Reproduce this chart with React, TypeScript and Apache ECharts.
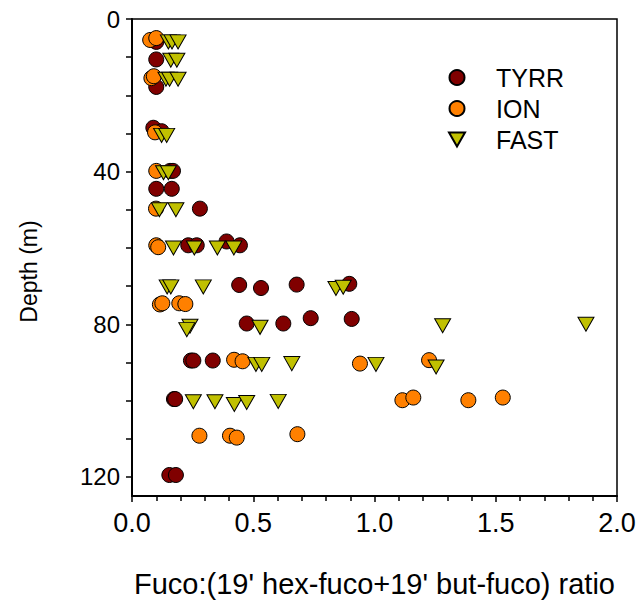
import React, { useEffect, useRef } from "react";
import * as echarts from "echarts";

const seriesNames = ["TYRR", "ION", "FAST"];

const tyrrRatio = [0.10, 0.10, 0.10, 0.088, 0.122, 0.157, 0.169, 0.10, 0.164, 0.28, 0.232, 0.267, 0.39, 0.445, 0.442, 0.532, 0.679, 0.896, 0.473, 0.624, 0.737, 0.906, 0.243, 0.253, 0.333, 0.173, 0.178, 0.154, 0.181];
const tyrrDepth = [6, 10.6, 17.8, 28.5, 29.4, 39.8, 39.8, 44.5, 44.5, 49.7, 59.3, 59.3, 58.3, 59.3, 69.7, 70.5, 69.6, 69.4, 79.8, 79.8, 78.4, 78.6, 89.5, 89.5, 89.5, 99.6, 99.6, 119.5, 119.5];

const ionRatio = [0.075, 0.10, 0.08, 0.09, 0.095, 0.10, 0.099, 0.10, 0.108, 0.115, 0.125, 0.195, 0.22, 0.421, 0.456, 0.94, 1.225, 1.115, 1.16, 1.387, 1.529, 0.278, 0.404, 0.432, 0.682];
const ionDepth = [5.5, 5.0, 15.5, 15, 29.7, 39.8, 49.7, 59.3, 59.8, 74.8, 74.5, 74.5, 74.7, 89.3, 89.7, 90.3, 89.4, 99.9, 99.2, 99.9, 99.2, 109.2, 109.2, 109.7, 108.8];

const fastRatio = [0.15, 0.165, 0.19, 0.16, 0.185, 0.14, 0.155, 0.19, 0.122, 0.143, 0.13, 0.15, 0.113, 0.181, 0.171, 0.257, 0.352, 0.42, 0.145, 0.16, 0.294, 0.841, 0.871, 0.239, 0.226, 0.528, 1.281, 1.872, 0.511, 0.535, 0.659, 1.006, 1.254, 0.253, 0.342, 0.422, 0.473, 0.603];
const fastDepth = [6, 6, 6, 10.8, 10.8, 15.8, 15.8, 15.8, 30.5, 30.5, 40.3, 40.3, 50, 50, 60, 60, 60, 60, 70.2, 70.2, 70.2, 70.6, 70.3, 80.5, 81.4, 80.8, 80.4, 80, 90.5, 90.5, 90.3, 90.5, 91.2, 100.3, 100.3, 101, 100.5, 100.2];

const xTickLabels = [0, 0.5, 1.0, 1.5, 2.0];
const yTickLabels = [0, 40, 80, 120];
const yTickValues = [0, 10, 20, 30, 40, 50, 60, 70, 80, 90, 100, 110, 120];

const colors = ["#800000", "#ff8000", "#c0c000"];

const pairs = (xs: number[], ys: number[]) => xs.map((x, i) => [x, ys[i]]);

export default function App() {
  const ref = useRef<HTMLDivElement>(null);
  useEffect(() => {
    if (!ref.current) return;
    const chart = echarts.init(ref.current, null, { renderer: "svg" });
    const font = "Liberation Sans, Arial, sans-serif";
    const tri = "path://M0,0L16,0L8,14Z";
    chart.setOption({
      animation: false,
      backgroundColor: "#fff",
      textStyle: { fontFamily: font },
      grid: {
        left: 132,
        right: 27,
        top: 19,
        bottom: 111,
        show: true,
        borderColor: "#000",
        borderWidth: 1.5,
        backgroundColor: "transparent",
      },
      legend: {
        orient: "vertical",
        left: 443,
        top: 60,
        itemGap: 6,
        itemWidth: 16,
        itemHeight: 15,
        textStyle: { fontSize: 25, color: "#000", fontFamily: font, padding: [0, 0, 0, 26] },
        data: seriesNames,
      },
      xAxis: {
        type: "value",
        min: 0,
        max: 2,
        interval: 0.5,
        name: "Fuco:(19' hex-fuco+19' but-fuco) ratio",
        nameLocation: "middle",
        nameGap: 73,
        nameTextStyle: { fontSize: 29, color: "#000", fontFamily: font },
        axisLine: { show: true, onZero: false, lineStyle: { color: "#000", width: 2 } },
        axisTick: { show: true, inside: false, length: 6, lineStyle: { color: "#000", width: 1.5 } },
        minorTick: { show: true, splitNumber: 5, length: 5, lineStyle: { color: "#000", width: 1.5 } },
        axisLabel: {
          fontSize: 27,
          color: "#000",
          margin: 13,
          fontFamily: font,
          customValues: xTickLabels,
          formatter: (v: number) => v.toFixed(1),
        },
        splitLine: { show: false },
        minorSplitLine: { show: false },
      },
      yAxis: {
        type: "value",
        inverse: true,
        min: 0,
        max: 125,
        interval: 40,
        name: "Depth (m)",
        nameLocation: "middle",
        nameGap: 92,
        nameRotate: 90,
        nameTextStyle: { fontSize: 23, color: "#000", fontFamily: font, padding: [0, 28, 0, 0] },
        axisLine: { show: true, onZero: false, lineStyle: { color: "#000", width: 2 } },
        axisTick: { show: true, inside: false, length: 6, customValues: yTickValues, lineStyle: { color: "#000", width: 1.5 } },
        axisLabel: {
          fontSize: 24,
          color: "#000",
          margin: 12,
          fontFamily: font,
          customValues: yTickLabels,
        },
        splitLine: { show: false },
      },
      series: [
        {
          name: seriesNames[0],
          type: "scatter",
          symbol: "circle",
          symbolSize: 15,
          itemStyle: { color: colors[0], opacity: 1, borderColor: "#000", borderWidth: 1 },
          data: pairs(tyrrRatio, tyrrDepth),
        },
        {
          name: seriesNames[1],
          type: "scatter",
          symbol: "circle",
          symbolSize: 15,
          itemStyle: { color: colors[1], opacity: 1, borderColor: "#000", borderWidth: 1 },
          data: pairs(ionRatio, ionDepth),
        },
        {
          name: seriesNames[2],
          type: "scatter",
          symbol: tri,
          symbolSize: [16, 14],
          itemStyle: { color: colors[2], opacity: 1, borderColor: "#000", borderWidth: 1 },
          data: pairs(fastRatio, fastDepth),
        },
      ],
    });
    return () => chart.dispose();
  }, []);
  return (
    <div
      ref={ref}
      style={{ position: "fixed", left: 0, top: 0, width: 644, height: 607 }}
    />
  );
}
